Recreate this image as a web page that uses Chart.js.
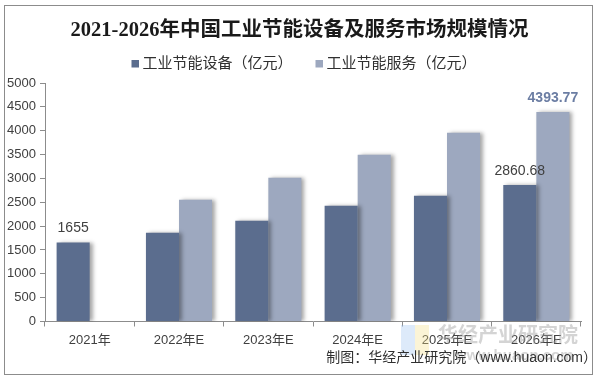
<!DOCTYPE html>
<html>
<head>
<meta charset="utf-8">
<script src="https://cdn.jsdelivr.net/npm/chart.js@4.4.0/dist/chart.umd.min.js"></script>
<style>
  html, body { margin: 0; padding: 0; background: #ffffff; }
  #wrap { width: 599px; height: 379px; position: relative; }
</style>
</head>
<body>
<div id="wrap"><canvas id="c" width="599" height="379"></canvas></div>
<script>
const categories = ['2021年', '2022年E', '2023年E', '2024年E', '2025年E', '2026年E'];
const equipmentValues = [1655, 1858, 2110, 2425, 2635, 2860.68];
const serviceValues = [null, 2551, 3013, 3496, 3958, 4393.77];
const seriesNames = ['工业节能设备（亿元）', '工业节能服务（亿元）'];
const yTicks = [0, 500, 1000, 1500, 2000, 2500, 3000, 3500, 4000, 4500, 5000];
const labelled = [
  { ds: 0, idx: 0, text: '1655', color: '#404040', bold: false },
  { ds: 0, idx: 5, text: '2860.68', color: '#404040', bold: false },
  { ds: 1, idx: 5, text: '4393.77', color: '#6b7da3', bold: true }
];
const titleText = '2021-2026年中国工业节能设备及服务市场规模情况';
const sourceText = '制图：华经产业研究院（www.huaon.com）';

const SANS = '"Liberation Sans", Arial, "Noto Sans CJK SC", sans-serif';
const DARK = '#5b6d8e';
const LIGHT = '#9da8bf';

const shadowPlugin = {
  id: 'barShadow',
  beforeDatasetsDraw(chart) {
    const ctx = chart.ctx;
    ctx.save();
    ctx.shadowColor = 'rgba(0,0,0,0.35)';
    ctx.shadowBlur = 4;
    ctx.shadowOffsetX = 3;
    ctx.shadowOffsetY = 0;
  },
  afterDatasetsDraw(chart) {
    chart.ctx.restore();
  }
};

const legendSlots = [131.5, 315.5];

const decorPlugin = {
  id: 'decor',
  beforeDraw(chart) {
    const ctx = chart.ctx;
    ctx.save();
    ctx.fillStyle = '#ffffff';
    ctx.fillRect(0, 0, chart.width, chart.height);
    ctx.restore();
  },
  afterDraw(chart) {
    const ctx = chart.ctx;
    ctx.save();
    // legend
    chart.data.datasets.forEach((ds, i) => {
      const x = legendSlots[i];
      ctx.fillStyle = ds.backgroundColor;
      ctx.fillRect(x, 60, 7.5, 7.5);
      ctx.fillStyle = '#303030';
      ctx.font = '15px ' + SANS;
      ctx.textAlign = 'left';
      ctx.textBaseline = 'middle';
      ctx.fillText(ds.label, x + 11, 64);
    });
    // value labels
    labelled.forEach(l => {
      const el = chart.getDatasetMeta(l.ds).data[l.idx];
      ctx.font = (l.bold ? 'bold ' : '') + '14px ' + SANS;
      ctx.fillStyle = l.color;
      ctx.textAlign = 'center';
      ctx.textBaseline = 'middle';
      ctx.fillText(l.text, el.x, el.y - 14);
    });
    // watermark
    ctx.globalAlpha = 0.35;
    ctx.fillStyle = '#9ec4f0';
    ctx.fillRect(401, 325, 14, 30);
    ctx.fillStyle = '#f3e08a';
    ctx.fillRect(415, 325, 14, 30);
    ctx.globalAlpha = 0.45;
    ctx.fillStyle = '#a0a0a0';
    ctx.font = 'bold 20px "Noto Sans CJK SC", sans-serif';
    ctx.textAlign = 'left';
    ctx.textBaseline = 'middle';
    ctx.fillText('华经产业研究院', 438, 334);
    ctx.font = 'bold 15px ' + SANS;
    ctx.fillText('www.huaon.com', 455, 356);
    ctx.globalAlpha = 1;
    // source text
    ctx.fillStyle = '#303030';
    ctx.font = '14px ' + SANS;
    ctx.textAlign = 'right';
    ctx.textBaseline = 'middle';
    ctx.fillText(sourceText, 597, 358);
    // outer border
    ctx.strokeStyle = '#8c8c8c';
    ctx.lineWidth = 1;
    ctx.strokeRect(4.5, 5.5, 588, 369);
    ctx.restore();
  }
};

new Chart(document.getElementById('c'), {
  type: 'bar',
  data: {
    labels: categories,
    datasets: [
      { label: seriesNames[0], data: equipmentValues, backgroundColor: DARK, borderWidth: 0 },
      { label: seriesNames[1], data: serviceValues, backgroundColor: LIGHT, borderWidth: 0 }
    ]
  },
  options: {
    responsive: false,
    animation: false,
    devicePixelRatio: 1,
    layout: { padding: 0 },
    datasets: { bar: { categoryPercentage: 0.74, barPercentage: 1.0 } },
    plugins: {
      title: {
        display: true,
        text: titleText,
        color: '#1a1a1a',
        font: { family: '"Liberation Serif", "Noto Sans CJK SC", serif', size: 20.5, weight: 'bold', lineHeight: 1.2 },
        padding: { top: 18, bottom: 40.4 }
      },
      legend: { display: false },
      tooltip: { enabled: false }
    },
    scales: {
      x: {
        grid: { display: true, drawOnChartArea: false, offset: true, tickLength: 5, color: '#8c8c8c' },
        border: { display: true, color: '#8c8c8c' },
        ticks: { color: '#404040', font: { family: SANS, size: 13 }, padding: 6, maxRotation: 0 },
        afterFit(scale) { scale.height = 57.5; }
      },
      y: {
        min: 0,
        max: 5000,
        afterBuildTicks(scale) { scale.ticks = yTicks.map(v => ({ value: v })); },
        grid: { display: true, drawOnChartArea: false, tickLength: 5, color: '#8c8c8c' },
        border: { display: true, color: '#8c8c8c' },
        ticks: { color: '#404040', font: { family: SANS, size: 13 }, padding: 4, callback: v => String(v) },
        afterFit(scale) { scale.width = 45; }
      },
      yRightSpace: {
        position: 'right',
        display: true,
        min: 0,
        max: 5000,
        grid: { display: false },
        border: { display: false },
        ticks: { display: false },
        afterFit(scale) { scale.width = 18; }
      }
    }
  },
  plugins: [decorPlugin, shadowPlugin]
});
</script>
</body>
</html>
